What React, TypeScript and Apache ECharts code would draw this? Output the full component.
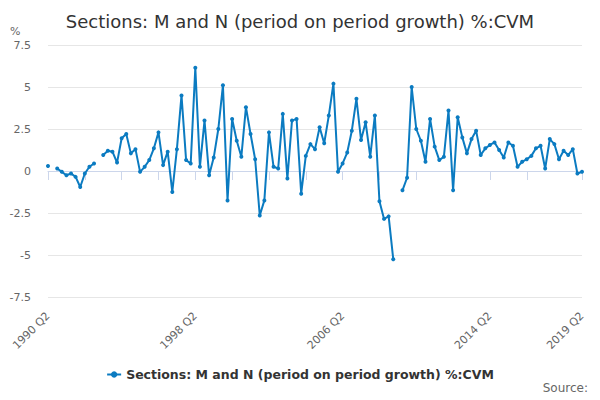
import React, { useEffect, useRef } from "react";
import * as echarts from "echarts";

const firstYear = 1990;
const lastYear = 2019;

// quarter labels, 1990 Q2 .. 2019 Q2
const quarters: string[] = [];
for (let y = firstYear; y <= lastYear; y++) {
  for (let q = 1; q <= 4; q++) {
    if (y === firstYear && q < 2) continue;
    if (y === lastYear && q > 2) continue;
    quarters.push(`${y} Q${q}`);
  }
}

const labelledQuarters = ["1990 Q2", "1998 Q2", "2006 Q2", "2014 Q2", "2019 Q2"];

const growth: (number | null)[] = [
  0.3, null, 0.15, -0.05, -0.25, -0.15, -0.35, -0.95, -0.15, 0.25,
  0.45, null, 0.95, 1.2, 1.15, 0.5, 1.95, 2.2, 1.05, 1.3,
  -0.05, 0.25, 0.65, 1.35, 2.3, 0.35, 1.15, -1.25, 1.3, 4.5,
  0.65, 0.45, 6.15, 0.25, 3.0, -0.25, 0.8, 2.5, 5.1, -1.75,
  3.1, 1.8, 0.85, 3.8, 2.2, 0.7, -2.65, -1.75, 2.3, 0.25,
  0.15, 3.4, -0.45, 3.0, 3.1, -1.35, 0.9, 1.6, 1.3, 2.6,
  1.65, 3.3, 5.2, -0.05, 0.45, 1.1, 2.4, 4.3, 1.85, 2.9,
  0.85, 3.3, -1.8, -2.85, -2.7, -5.25, null, -1.15, -0.4, 5.0,
  2.5, 1.8, 0.55, 3.1, 1.45, 0.65, 0.85, 3.6, -1.15, 3.2,
  2.0, 1.05, 1.9, 2.4, 0.95, 1.35, 1.55, 1.7, 1.25, 0.8,
  1.7, 1.5, 0.25, 0.55, 0.7, 0.9, 1.35, 1.5, 0.15, 1.9,
  1.6, 0.7, 1.2, 0.95, 1.3, -0.15, -0.05,
];

const seriesName = "Sections: M and N (period on period growth) %:CVM";

const App = () => {
  const chartRef = useRef<HTMLDivElement>(null);

  useEffect(() => {
    if (!chartRef.current) return;
    const chart = echarts.init(chartRef.current, null, { renderer: "svg" });

    const lastIdx = quarters.length - 1;

    chart.setOption({
      animation: false,
      textStyle: { fontFamily: "DejaVu Sans" },
      title: {
        text: seriesName,
        left: "center",
        top: 7,
        textStyle: { fontSize: 18, fontWeight: "normal", color: "#333333" },
      },
      grid: { left: 48, right: 18, top: 45, bottom: 103 },
      legend: {
        left: "center",
        top: 363,
        itemWidth: 14,
        itemHeight: 8,
        itemGap: 8,
        textStyle: { fontSize: 12.5, fontWeight: "bold", color: "#333333" },
        data: [seriesName],
      },
      graphic: [
        {
          type: "text",
          left: 10,
          top: 26,
          style: { text: "%", fontSize: 11, fill: "#666666", fontFamily: "DejaVu Sans" },
        },
        {
          type: "text",
          right: 12,
          top: 382,
          style: { text: "Source:", fontSize: 12, fill: "#666666", fontFamily: "DejaVu Sans" },
        },
      ],
      xAxis: {
        type: "category",
        data: quarters,
        boundaryGap: false,
        axisLine: { lineStyle: { color: "#ccd6eb" } },
        axisTick: {
          length: 9,
          lineStyle: { color: "#ccd6eb" },
          interval: (i: number) => (i % 8 === 0 && i <= 104) || i === lastIdx,
        },
        axisLabel: {
          rotate: 45,
          fontSize: 11,
          color: "#666666",
          margin: 17,
          interval: (i: number, v: string) => labelledQuarters.includes(v),
        },
        splitLine: { show: false },
      },
      yAxis: {
        type: "value",
        min: -7.5,
        max: 7.5,
        interval: 2.5,
        axisLine: { show: false },
        axisTick: { show: false },
        axisLabel: { fontSize: 11, color: "#666666", margin: 17 },
        splitLine: { lineStyle: { color: "#e6e6e6" } },
      },
      series: [
        {
          name: seriesName,
          type: "line",
          data: growth,
          connectNulls: false,
          symbol: "circle",
          symbolSize: 4,
          showSymbol: true,
          showAllSymbol: true,
          lineStyle: { width: 2, color: "#0b7bc1" },
          itemStyle: { color: "#0b7bc1" },
        },
      ],
    });

    return () => {
      chart.dispose();
    };
  }, []);

  return <div ref={chartRef} style={{ width: "600px", height: "400px", margin: "-8px" }} />;
};

export default App;
